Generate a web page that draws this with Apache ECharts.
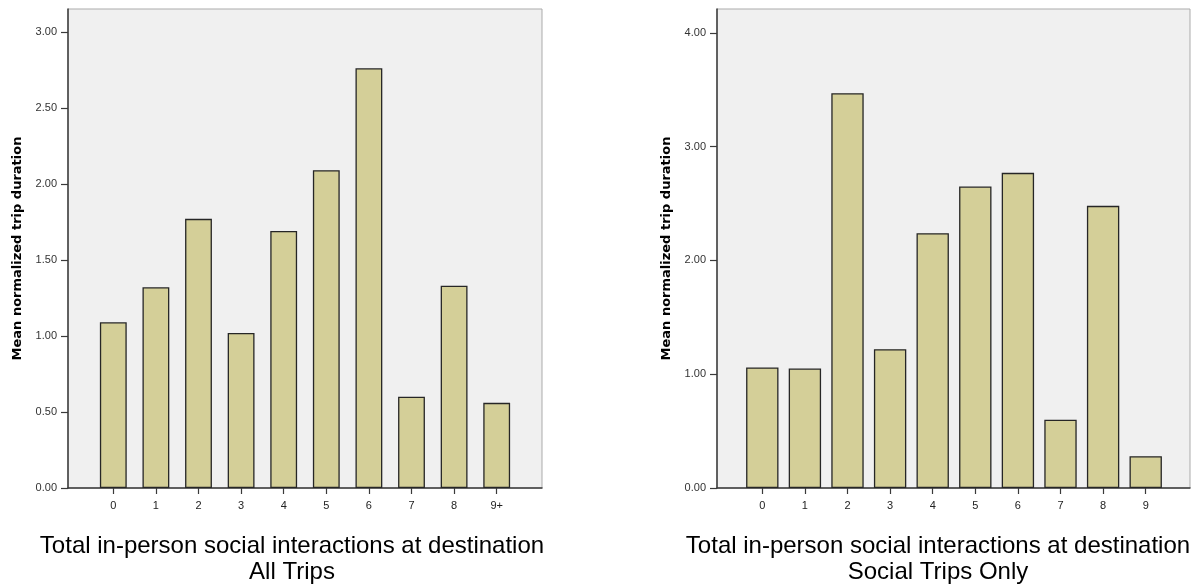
<!DOCTYPE html>
<html>
<head>
<meta charset="utf-8">
<script src="https://cdn.jsdelivr.net/npm/echarts@6/dist/echarts.min.js"></script>
<style>html,body{margin:0;padding:0;background:#fff;}#c{width:1198px;height:587px;}</style>
</head>
<body>
<div id="c"></div>
<script>
const categoriesAll = ['0','1','2','3','4','5','6','7','8','9+'];
const valuesAll = [1.09, 1.32, 1.77, 1.02, 1.69, 2.09, 2.76, 0.60, 1.33, 0.56];
const categoriesSocial = ['0','1','2','3','4','5','6','7','8','9'];
const valuesSocial = [1.06, 1.05, 3.47, 1.22, 2.24, 2.65, 2.77, 0.60, 2.48, 0.28];
const yTicksAll = [0, 0.5, 1, 1.5, 2, 2.5, 3];
const yTicksSocial = [0, 1, 2, 3, 4];
const yMaxAll = 3.15;
const yMaxSocial = 4.21;
const yTitle = 'Mean normalized trip duration';
const xTitleAll = 'Total in-person social interactions at destination\nAll Trips';
const xTitleSocial = 'Total in-person social interactions at destination\nSocial Trips Only';

const FONT = 'Liberation Sans, Arial, sans-serif';
const BAR_FILL = '#d4cf98';
const BAR_EDGE = '#262626';
const AXIS_COLOR = '#3a3a3a';

function frameGrid(left, width) {
  return { left: left, top: 9, width: width, height: 479, show: true,
           backgroundColor: '#f0f0f0', borderColor: '#ababab', borderWidth: 1 };
}
function dataGrid(left, width) {
  return { left: left, top: 9, width: width, height: 479 };
}
function frameX(gi) {
  return { type: 'value', gridIndex: gi, min: 0, max: 1,
    axisLine: { show: true, lineStyle: { color: AXIS_COLOR, width: 1.5 } },
    axisTick: { show: false }, axisLabel: { show: false }, splitLine: { show: false } };
}
function frameY(gi, max, ticks) {
  return { type: 'value', gridIndex: gi, min: 0, max: max,
    name: yTitle, nameLocation: 'middle', nameGap: 44,
    nameTextStyle: { fontFamily: 'DejaVu Sans, sans-serif', fontWeight: 'bold', fontSize: 13, color: '#000' },
    axisLine: { show: true, lineStyle: { color: AXIS_COLOR, width: 1.5 } },
    axisTick: { show: true, length: 7, customValues: ticks, lineStyle: { color: AXIS_COLOR, width: 1.2 } },
    axisLabel: { customValues: ticks, margin: 11, fontSize: 11, fontFamily: FONT, color: '#333',
                 formatter: v => Number(v).toFixed(2) },
    splitLine: { show: false } };
}
function dataX(gi, cats) {
  return { type: 'category', gridIndex: gi, data: cats,
    axisLine: { show: false },
    axisTick: { show: true, alignWithLabel: true, length: 6, lineStyle: { color: AXIS_COLOR, width: 1.2 } },
    axisLabel: { margin: 12, fontSize: 11, fontFamily: FONT, color: '#222' } };
}
function dataY(gi, max) {
  return { type: 'value', gridIndex: gi, min: 0, max: max, show: false, splitLine: { show: false } };
}
function barSeries(xi, vals, w) {
  return { type: 'bar', xAxisIndex: xi, yAxisIndex: xi, data: vals, barWidth: w,
    itemStyle: { color: BAR_FILL, borderColor: BAR_EDGE, borderWidth: 1.3 },
    emphasis: { disabled: true }, animation: false };
}
function xTitle(text, center) {
  return { text: text, left: center, top: 533, textAlign: 'center', padding: 0,
    textStyle: { fontFamily: FONT, fontSize: 24, fontWeight: 'normal', color: '#000', lineHeight: 26 } };
}

const chart = echarts.init(document.getElementById('c'), null, { renderer: 'canvas' });
chart.setOption({
  animation: false,
  backgroundColor: '#ffffff',
  title: [xTitle(xTitleAll, 292), xTitle(xTitleSocial, 938)],
  grid: [frameGrid(68, 474), dataGrid(92, 426), frameGrid(717, 473), dataGrid(741, 426)],
  xAxis: [frameX(0), dataX(1, categoriesAll), frameX(2), dataX(3, categoriesSocial)],
  yAxis: [frameY(0, yMaxAll, yTicksAll), dataY(1, yMaxAll), frameY(2, yMaxSocial, yTicksSocial), dataY(3, yMaxSocial)],
  series: [barSeries(1, valuesAll, '63%'), barSeries(3, valuesSocial, '76%')]
});
</script>
</body>
</html>
